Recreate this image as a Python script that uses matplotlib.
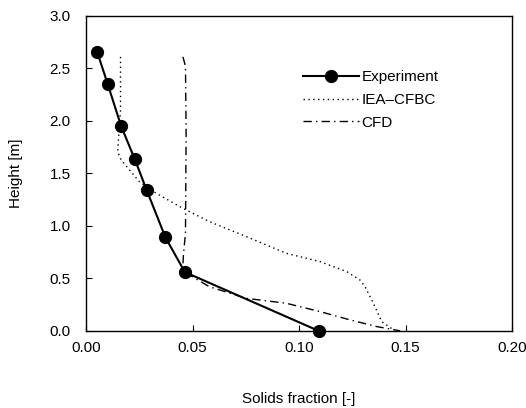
import matplotlib
matplotlib.use("Agg")
import matplotlib.pyplot as plt

# Experiment
exp_x = [0.0052, 0.0102, 0.0165, 0.0229, 0.0284, 0.0373, 0.0464, 0.1092]
exp_y = [2.66, 2.35, 1.95, 1.635, 1.345, 0.89, 0.56, 0.0]

# IEA-CFBC model
iea_x = [0.0162, 0.0162, 0.0154, 0.0149, 0.0165, 0.0251, 0.033, 0.0455, 0.058,
         0.0753, 0.094, 0.1098, 0.1224, 0.1286, 0.131, 0.1349, 0.1388, 0.1443]
iea_y = [2.61, 2.10, 1.88, 1.706, 1.627, 1.42, 1.31, 1.167, 1.04,
         0.898, 0.739, 0.66, 0.565, 0.485, 0.42, 0.263, 0.089, 0.01]

# CFD
cfd_x = [0.0455, 0.0467, 0.047, 0.0467, 0.0458, 0.0455, 0.047, 0.058, 0.0753,
         0.094, 0.1098, 0.1239, 0.1365, 0.1475]
cfd_y = [2.61, 2.52, 1.88, 0.93, 0.74, 0.64, 0.55, 0.42, 0.31,
         0.263, 0.184, 0.105, 0.041, 0.0]

plt.rcParams["font.family"] = ["Liberation Sans", "DejaVu Sans"]

fig = plt.figure(figsize=(5.26, 4.08), dpi=100)
ax = fig.add_axes([0.1635, 0.189, 0.81, 0.772])

ax.plot(exp_x, exp_y, "k-", lw=1.5, marker="o", ms=8.5, label="Experiment",
        clip_on=False, zorder=3)
ax.plot(iea_x, iea_y, color="k", lw=1.0, ls=(0, (1, 2.5)), label="IEA\u2013CFBC")
ax.plot(cfd_x, cfd_y, color="k", lw=1.0, ls=(0, (6, 3, 1, 3)), label="CFD")

ax.set_xlim(0, 0.20)
ax.set_ylim(0, 3.0)
ax.set_xticks([0.00, 0.05, 0.10, 0.15, 0.20])
ax.set_xticklabels(["0.00", "0.05", "0.10", "0.15", "0.20"])
ax.set_yticks([0.0, 0.5, 1.0, 1.5, 2.0, 2.5, 3.0])
ax.set_yticklabels(["0.0", "0.5", "1.0", "1.5", "2.0", "2.5", "3.0"])
ax.tick_params(direction="in", length=4, labelsize=11)
ax.tick_params(axis="x", pad=7)
ax.tick_params(axis="y", pad=11)
ax.set_xlabel("Solids fraction [-]", fontsize=11, labelpad=27)
ax.set_ylabel("Height [m]", fontsize=11, labelpad=19)
for s in ax.spines.values():
    s.set_linewidth(1.0)

ax.legend(loc="upper left", bbox_to_anchor=(0.509, 0.828), frameon=False,
          fontsize=11, handlelength=3.7, handletextpad=0.15, labelspacing=0.58,
          borderaxespad=0, borderpad=0)

fig.savefig("out.png", dpi=100)
